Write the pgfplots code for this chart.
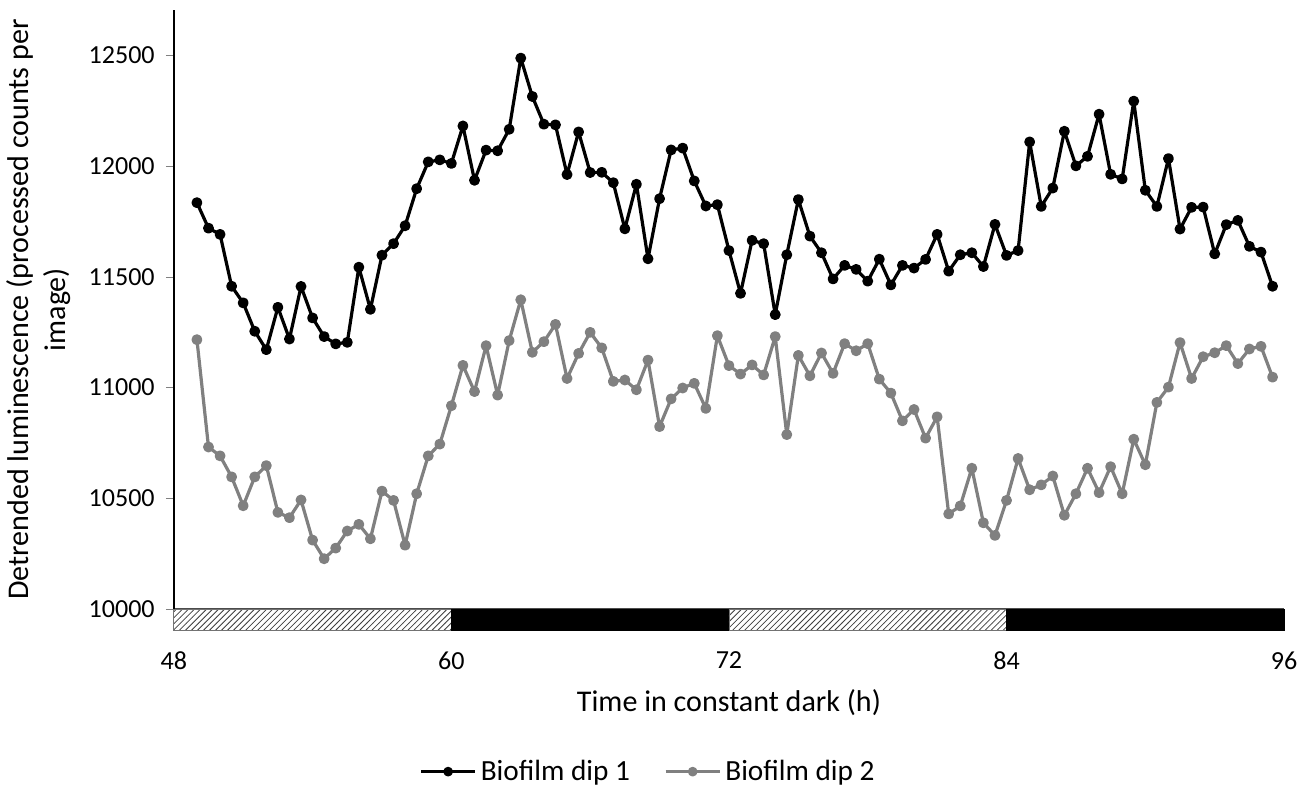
\documentclass[border=0pt]{standalone}
\usepackage{fontspec}
\setmainfont{Carlito}
\usepackage{pgfplots}
\pgfplotsset{compat=1.18}
\usetikzlibrary{patterns}

\definecolor{dipgray}{HTML}{808080}

\begin{document}
\begin{tikzpicture}[font=\fontsize{13pt}{15pt}\selectfont]
\begin{axis}[
    width=554pt, height=299pt, scale only axis,
    xmin=48, xmax=96, ymin=10000, ymax=12703,
    xtick={48,60,72,84,96}, ytick={10000,10500,...,12500},
    scaled y ticks=false,
    axis x line=bottom, axis y line=left,
    axis line style={-, line width=0.8pt},
    x axis line style={draw=black!70},
    major x tick style={draw=none},
    tick align=outside, major tick length=4pt,
    /pgf/number format/assume math mode=true,
    /pgf/number format/1000 sep={},
    xticklabel style={yshift=-13.5pt},
    yticklabel style={xshift=-2pt},
    xlabel={Time in constant dark (h)},
    xlabel style={font=\fontsize{15pt}{18pt}\selectfont, yshift=-3pt},
    ylabel={Detrended luminescence (processed counts per\\image)},
    ylabel style={align=center, font=\fontsize{15pt}{18.5pt}\selectfont, yshift=2pt},
    clip=false,
    legend columns=2,
    legend style={draw=none, inner sep=1pt, at={(0.428,-0.271)}, anchor=center,
        font=\fontsize{14.6pt}{17pt}\selectfont,
        /tikz/every even column/.append style={column sep=15pt}},
    legend cell align=left,
    legend image code/.code={
        \draw[#1, mark=none] (0pt,0pt) -- (27pt,0pt);
        \draw[#1, only marks, mark size=1.6pt] plot coordinates {(13.5pt,0pt)};
    },
]
% light/dark bar below the axis
\addplot[pattern=north east lines, pattern color=black!75, draw=black!55, thin, forget plot]
    coordinates {(48,10000) (60,10000) (60,9905) (48,9905)} -- cycle;
\addplot[fill=black, draw=black, forget plot]
    coordinates {(60,10000) (72,10000) (72,9905) (60,9905)} -- cycle;
\addplot[pattern=north east lines, pattern color=black!75, draw=black!55, thin, forget plot]
    coordinates {(72,10000) (84,10000) (84,9905) (72,9905)} -- cycle;
\addplot[fill=black, draw=black, forget plot]
    coordinates {(84,10000) (96,10000) (96,9905) (84,9905)} -- cycle;

\addplot[black, line width=1.6pt, line join=round, mark=*, mark size=1.9pt] coordinates {
(49.0,11834) (49.5,11719) (50.0,11691) (50.5,11457) (51.0,11382) (51.5,11254)
(52.0,11171) (52.5,11362) (53.0,11219) (53.5,11456) (54.0,11314) (54.5,11230)
(55.0,11197) (55.5,11204) (56.0,11543) (56.5,11353) (57.0,11597) (57.5,11649)
(58.0,11730) (58.5,11897) (59.0,12018) (59.5,12027) (60.0,12011) (60.5,12180)
(61.0,11935) (61.5,12071) (62.0,12068) (62.5,12165) (63.0,12486) (63.5,12313)
(64.0,12188) (64.5,12185) (65.0,11961) (65.5,12153) (66.0,11970) (66.5,11971)
(67.0,11924) (67.5,11716) (68.0,11917) (68.5,11581) (69.0,11852) (69.5,12072)
(70.0,12080) (70.5,11932) (71.0,11819) (71.5,11825) (72.0,11618) (72.5,11425)
(73.0,11664) (73.5,11649) (74.0,11329) (74.5,11599) (75.0,11848) (75.5,11683)
(76.0,11608) (76.5,11490) (77.0,11551) (77.5,11533) (78.0,11480) (78.5,11579)
(79.0,11463) (79.5,11551) (80.0,11539) (80.5,11578) (81.0,11691) (81.5,11525)
(82.0,11599) (82.5,11608) (83.0,11546) (83.5,11736) (84.0,11596) (84.5,11618)
(85.0,12108) (85.5,11817) (86.0,11900) (86.5,12156) (87.0,12000) (87.5,12043)
(88.0,12233) (88.5,11962) (89.0,11941) (89.5,12292) (90.0,11890) (90.5,11817)
(91.0,12033) (91.5,11715) (92.0,11813) (92.5,11814) (93.0,11603) (93.5,11735)
(94.0,11754) (94.5,11637) (95.0,11611) (95.5,11457)
};
\addlegendentry{Biofilm dip 1}

\addplot[dipgray, line width=1.6pt, line join=round, mark=*, mark size=1.9pt] coordinates {
(49.0,11216) (49.5,10732) (50.0,10692) (50.5,10597) (51.0,10467) (51.5,10597)
(52.0,10648) (52.5,10437) (53.0,10413) (53.5,10493) (54.0,10312) (54.5,10228)
(55.0,10276) (55.5,10353) (56.0,10383) (56.5,10318) (57.0,10533) (57.5,10491)
(58.0,10289) (58.5,10521) (59.0,10692) (59.5,10745) (60.0,10918) (60.5,11100)
(61.0,10982) (61.5,11189) (62.0,10966) (62.5,11212) (63.0,11396) (63.5,11159)
(64.0,11207) (64.5,11285) (65.0,11041) (65.5,11154) (66.0,11249) (66.5,11179)
(67.0,11028) (67.5,11034) (68.0,10990) (68.5,11124) (69.0,10824) (69.5,10949)
(70.0,10998) (70.5,11019) (71.0,10906) (71.5,11234) (72.0,11099) (72.5,11061)
(73.0,11102) (73.5,11057) (74.0,11230) (74.5,10788) (75.0,11145) (75.5,11053)
(76.0,11156) (76.5,11064) (77.0,11198) (77.5,11166) (78.0,11198) (78.5,11038)
(79.0,10975) (79.5,10850) (80.0,10901) (80.5,10772) (81.0,10868) (81.5,10430)
(82.0,10466) (82.5,10636) (83.0,10390) (83.5,10333) (84.0,10491) (84.5,10680)
(85.0,10539) (85.5,10561) (86.0,10601) (86.5,10424) (87.0,10521) (87.5,10636)
(88.0,10526) (88.5,10643) (89.0,10521) (89.5,10767) (90.0,10652) (90.5,10933)
(91.0,11002) (91.5,11203) (92.0,11041) (92.5,11139) (93.0,11157) (93.5,11189)
(94.0,11108) (94.5,11174) (95.0,11186) (95.5,11047)
};
\addlegendentry{Biofilm dip 2}
\end{axis}
% white margin above and below, as in the reference
\path (current axis.north west) ++(0,5pt);
\path (current axis.south west) ++(0,-91pt);
\end{tikzpicture}
\end{document}
